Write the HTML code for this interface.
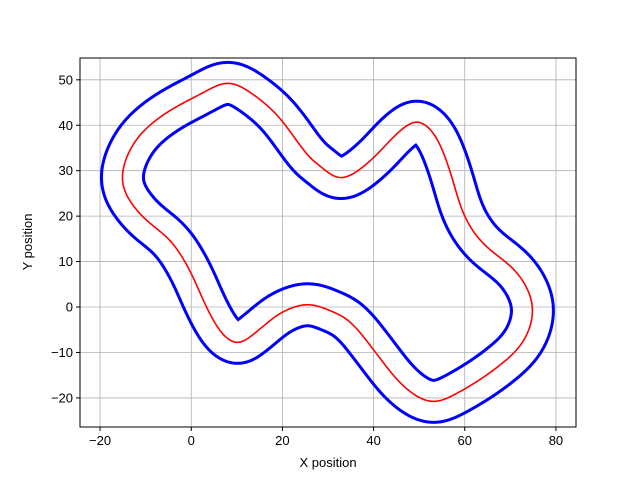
<!DOCTYPE html>
<html><head><meta charset="utf-8"><style>
body{margin:0;background:#fff}
svg text{font-family:"Liberation Sans","DejaVu Sans",sans-serif;font-size:13px;fill:#000}
</style></head><body>
<svg id="chart" width="640" height="480" viewBox="0 0 640 480" xmlns="http://www.w3.org/2000/svg">
<rect width="640" height="480" fill="#fff"/>
<defs><mask id="bmask" maskUnits="userSpaceOnUse" x="0" y="0" width="640" height="480"></mask></defs>
<g id="grid"></g>
<g id="series"></g>
<rect x="80" y="58" width="496" height="369" fill="none" stroke="#000" stroke-width="1"/>
<g id="ticks"></g>
<text x="328" y="467" text-anchor="middle">X position</text>
<text transform="translate(32,242) rotate(-90)" text-anchor="middle">Y position</text>
</svg>
<script>
const trackX=[75.1,71.4,64.1,59.7,56.8,53.3,49.5,45.1,40.0,33.0,28.3,25.4,19.5,14.4,8.2,2.0,-6.1,-11.9,-15.0,-14.7,-10.5,-4.6,-0.2,3.4,7.1,10.4,14.4,19.5,25.4,30.5,34.8,40.3,46.5,52.8,59.0,67.0,73.0];
const trackY=[0.15,7.9,13.7,20.3,29.9,38.2,41.0,38.2,32.8,28.0,31.0,33.5,41.6,46.2,49.6,46.8,42.4,37.2,30.6,25.5,19.6,14.8,7.9,-0.2,-6.3,-8.0,-5.4,-1.3,0.7,-0.8,-3.1,-9.8,-17.5,-21.1,-18.6,-13.4,-7.6];
const halfWidth=[4.6];
const xTicks=[-20,0,20,40,60,80];
const yTicks=[-20,-10,0,10,20,30,40,50];
const X0=-24.4,X1=84.4,Y0=-26.4,Y1=54.8;
const L=80,R=576,T=58,B=427;
const sx=v=>L+(v-X0)/(X1-X0)*(R-L);
const sy=v=>B-(v-Y0)/(Y1-Y0)*(B-T);
const NS="http://www.w3.org/2000/svg";
function mk(tag,attrs,parent){const e=document.createElementNS(NS,tag);for(const k in attrs)e.setAttribute(k,attrs[k]);parent.appendChild(e);return e;}
const grid=document.getElementById('grid'),ticks=document.getElementById('ticks'),series=document.getElementById('series'),mask=document.getElementById('bmask');
xTicks.forEach(v=>{
  const gl=mk('line',{x1:sx(v),x2:sx(v),y1:T,y2:B,stroke:'#b0b0b0','stroke-width':0.8},grid);
  
  
  const tk=mk('line',{x1:sx(v),x2:sx(v),y1:B,y2:B+4,stroke:'#000'},ticks);
  
  
  const t=mk('text',{x:sx(v),y:B+18,'text-anchor':'middle'},ticks);t.textContent=v<0?'\u2212'+(-v):v;
  
  
});
yTicks.forEach(v=>{
  const gl=mk('line',{x1:L,x2:R,y1:sy(v),y2:sy(v),stroke:'#b0b0b0','stroke-width':0.8},grid);
  
  
  const tk=mk('line',{x1:L-4,x2:L,y1:sy(v),y2:sy(v),stroke:'#000'},ticks);
  
  
  const t=mk('text',{x:L-7,y:sy(v)+4.5,'text-anchor':'end'},ticks);t.textContent=v<0?'\u2212'+(-v):v;
  
  
});
// centripetal catmull-rom, closed
const n=trackX.length;let pts=[];
for(let i=0;i<n;i++){
  const P=[i-1,i,i+1,i+2].map(k=>{k=(k+n)%n;return [trackX[k],trackY[k]];});
  const tj=(a,b)=>Math.pow(Math.hypot(b[0]-a[0],b[1]-a[1]),0.5)||1e-3;
  const t0=0,t1=t0+tj(P[0],P[1]),t2=t1+tj(P[1],P[2]),t3=t2+tj(P[2],P[3]);
  const lerp=(a,b,ta,tb,t)=>[(tb-t)/(tb-ta)*a[0]+(t-ta)/(tb-ta)*b[0],(tb-t)/(tb-ta)*a[1]+(t-ta)/(tb-ta)*b[1]];
  for(let s=0;s<20;s++){
    const t=t1+(t2-t1)*s/20;
    const A1=lerp(P[0],P[1],t0,t1,t),A2=lerp(P[1],P[2],t1,t2,t),A3=lerp(P[2],P[3],t2,t3,t);
    const B1=lerp(A1,A2,t0,t2,t),B2=lerp(A2,A3,t1,t3,t);
    pts.push(lerp(B1,B2,t1,t2,t));
  }
}
// smoothing
for(let it=0;it<70;it++){
  const m=pts.length;
  pts=pts.map((p,i)=>{const a=pts[(i-1+m)%m],b=pts[(i+1)%m];return [(a[0]+2*p[0]+b[0])/4,(a[1]+2*p[1]+b[1])/4];});
}
function path(ps){return 'M'+ps.map(p=>sx(p[0]).toFixed(2)+','+sy(p[1]).toFixed(2)).join('L')+'Z';}
const d=path(pts);
const pxw=halfWidth[0]*2*(R-L)/(X1-X0);
mk('path',{d:d,fill:'none',stroke:'#fff','stroke-width':pxw+3,'stroke-linejoin':'round'},mask);
mk('path',{d:d,fill:'none',stroke:'#000','stroke-width':pxw-3,'stroke-linejoin':'round'},mask);
const bounds=mk('rect',{x:0,y:0,width:640,height:480,fill:'#0000ff',mask:'url(#bmask)'},series);


const center=mk('path',{d:d,fill:'none',stroke:'#ff0000','stroke-width':1.6},series);


</script>
</body></html>
